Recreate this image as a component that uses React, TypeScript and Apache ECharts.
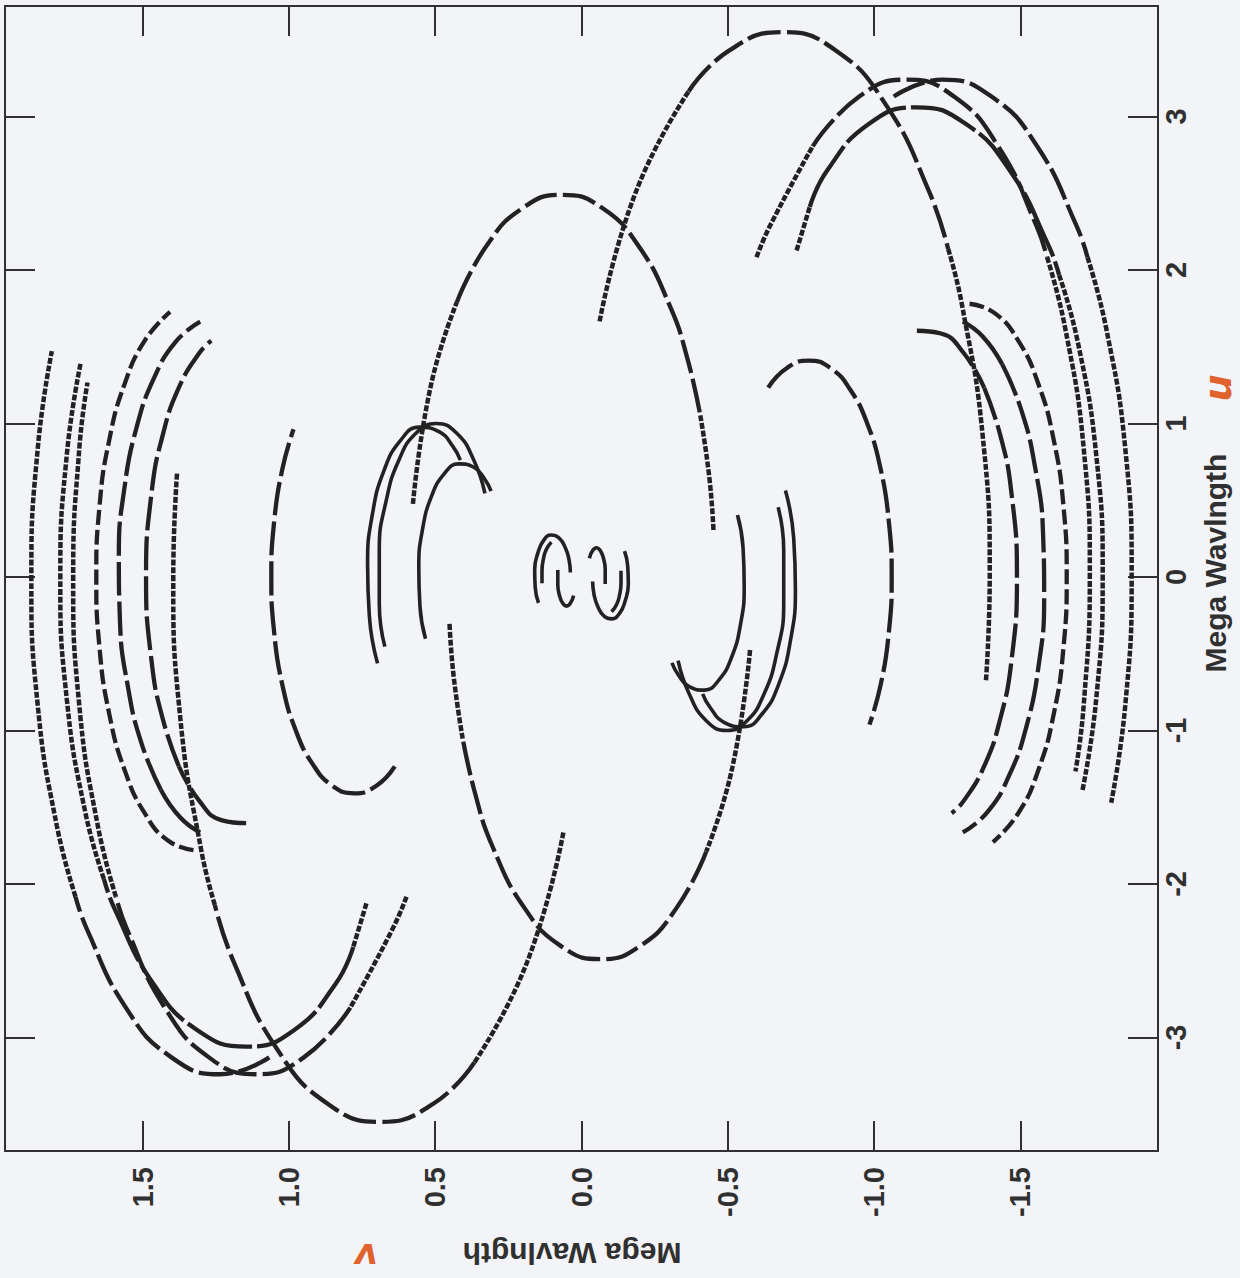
import React, { useEffect, useRef } from "react";
import * as echarts from "echarts";

type Pt = [number, number]; // [v, u]  (v: horizontal axis, u: vertical axis)

// ---- uv tracks (v, u in Mega Wavelength) ----
const T1_DOT_A: Pt[] = [[-0.062, 1.665], [-0.186, 2.51], [-0.366, 3.163]];
const T1_LONG: Pt[] = [[-0.366, 3.163], [-0.504, 3.429], [-0.687, 3.55], [-0.87, 3.429], [-1.041, 3.074], [-1.188, 2.51], [-1.253, 2.137]];
const T1_DOT_B: Pt[] = [[-1.253, 2.137], [-1.3, 1.775], [-1.371, 0.919], [-1.395, 0], [-1.382, -0.678]];
const T1C_DOT_A: Pt[] = [[0.062, -1.665], [0.186, -2.51], [0.366, -3.163]];
const T1C_LONG: Pt[] = [[0.366, -3.163], [0.504, -3.429], [0.687, -3.55], [0.87, -3.429], [1.041, -3.074], [1.188, -2.51], [1.253, -2.137]];
const T1C_DOT_B: Pt[] = [[1.253, -2.137], [1.3, -1.775], [1.371, -0.919], [1.395, 0], [1.382, 0.678]];

const P_LONG: Pt[] = [[-1.067, 3.13], [-1.234, 3.24], [-1.401, 3.13], [-1.557, 2.806], [-1.691, 2.291], [-1.729, 2.083]];
const P_DOT: Pt[] = [[-1.729, 2.083], [-1.793, 1.62], [-1.858, 0.839], [-1.88, 0], [-1.858, -0.839], [-1.81, -1.471]];
const PC_LONG: Pt[] = [[1.067, -3.13], [1.234, -3.24], [1.401, -3.13], [1.557, -2.806], [1.691, -2.291], [1.729, -2.083]];
const PC_DOT: Pt[] = [[1.729, -2.083], [1.793, -1.62], [1.858, -0.839], [1.88, 0], [1.858, 0.839], [1.81, 1.471]];

const Q_DOT_A: Pt[] = [[-0.598, 2.083], [-0.645, 2.291], [-0.79, 2.806]];
const Q_LONG: Pt[] = [[-0.79, 2.806], [-0.949, 3.13], [-1.111, 3.24], [-1.273, 3.13], [-1.424, 2.806], [-1.554, 2.291], [-1.591, 2.083]];
const Q_DOT_B: Pt[] = [[-1.591, 2.083], [-1.653, 1.62], [-1.716, 0.839], [-1.737, 0], [-1.716, -0.839], [-1.688, -1.267]];
const QC_DOT_A: Pt[] = [[0.598, -2.083], [0.645, -2.291], [0.79, -2.806]];
const QC_LONG: Pt[] = [[0.79, -2.806], [0.949, -3.13], [1.111, -3.24], [1.273, -3.13], [1.424, -2.806], [1.554, -2.291], [1.591, -2.083]];
const QC_DOT_B: Pt[] = [[1.591, -2.083], [1.653, -1.62], [1.716, -0.839], [1.737, 0], [1.716, 0.839], [1.688, 1.267]];

const R_DOT_A: Pt[] = [[-0.735, 2.127], [-0.78, 2.411]];
const R_TOP: Pt[] = [[-0.78, 2.411], [-0.84, 2.65], [-0.985, 2.956], [-1.145, 3.06], [-1.31, 2.956], [-1.463, 2.65], [-1.595, 2.164], [-1.632, 1.968]];
const R_DOT_B: Pt[] = [[-1.632, 1.968], [-1.696, 1.53], [-1.759, 0.793], [-1.781, 0], [-1.759, -0.793], [-1.712, -1.389]];
const RC_DOT_A: Pt[] = [[0.735, -2.127], [0.78, -2.411]];
const RC_TOP: Pt[] = [[0.78, -2.411], [0.84, -2.65], [0.985, -2.956], [1.145, -3.06], [1.31, -2.956], [1.463, -2.65], [1.595, -2.164], [1.632, -1.968]];
const RC_DOT_B: Pt[] = [[1.632, -1.968], [1.696, -1.53], [1.759, -0.793], [1.781, 0], [1.759, 0.793], [1.712, 1.389]];

const S1_TOP: Pt[] = [[-1.146, 1.604], [-1.228, 1.586], [-1.306, 1.459], [-1.376, 1.233]];
const S1_LONG: Pt[] = [[-1.376, 1.233], [-1.431, 0.924], [-1.469, 0.551], [-1.488, 0], [-1.469, -0.551], [-1.431, -0.924], [-1.376, -1.233], [-1.306, -1.459], [-1.265, -1.539]];
const S1C_TOP: Pt[] = [[1.146, -1.604], [1.228, -1.586], [1.306, -1.459], [1.376, -1.233]];
const S1C_LONG: Pt[] = [[1.376, -1.233], [1.431, -0.924], [1.469, -0.551], [1.488, 0], [1.469, 0.551], [1.431, 0.924], [1.376, 1.233], [1.306, 1.459], [1.265, 1.539]];

const S3_TOP: Pt[] = [[-1.303, 1.664], [-1.371, 1.567], [-1.438, 1.384]];
const S3_LONG: Pt[] = [[-1.438, 1.384], [-1.503, 1.087], [-1.55, 0.715], [-1.577, 0.294], [-1.581, -0.147], [-1.562, -0.578], [-1.521, -0.97], [-1.461, -1.295], [-1.387, -1.532], [-1.303, -1.664]];
const S3C_TOP: Pt[] = [[1.303, -1.664], [1.371, -1.567], [1.438, -1.384]];
const S3C_LONG: Pt[] = [[1.438, -1.384], [1.503, -1.087], [1.55, -0.715], [1.577, -0.294], [1.581, 0.147], [1.562, 0.578], [1.521, 0.97], [1.461, 1.295], [1.387, 1.532], [1.303, 1.664]];

const S2_DASH: Pt[] = [[-1.326, 1.78], [-1.412, 1.719], [-1.492, 1.541], [-1.561, 1.259], [-1.614, 0.89], [-1.647, 0.461], [-1.658, 0], [-1.647, -0.461], [-1.614, -0.89], [-1.561, -1.259], [-1.492, -1.541], [-1.406, -1.727]];
const S2C_DASH: Pt[] = [[1.326, -1.78], [1.412, -1.719], [1.492, -1.541], [1.561, -1.259], [1.614, -0.89], [1.647, -0.461], [1.658, 0], [1.647, 0.461], [1.614, 0.89], [1.561, 1.259], [1.492, 1.541], [1.406, 1.727]];

const E0_DOT_A: Pt[] = [[0.576, 0.476], [0.515, 1.245], [0.426, 1.79]];
const E0_LONG: Pt[] = [[0.426, 1.79], [0.325, 2.156], [0.2, 2.405], [0.065, 2.49], [-0.07, 2.405], [-0.195, 2.156], [-0.303, 1.761], [-0.361, 1.429], [-0.406, 1.053]];
const E0_DOT_B: Pt[] = [[-0.406, 1.053], [-0.437, 0.645], [-0.451, 0.304]];
const E0C_DOT_A: Pt[] = [[-0.576, -0.476], [-0.515, -1.245], [-0.426, -1.79]];
const E0C_LONG: Pt[] = [[-0.426, -1.79], [-0.325, -2.156], [-0.2, -2.405], [-0.065, -2.49], [0.07, -2.405], [0.195, -2.156], [0.303, -1.761], [0.361, -1.429], [0.406, -1.053]];
const E0C_DOT_B: Pt[] = [[0.406, -1.053], [0.437, -0.645], [0.451, -0.304]];

const E1_LONG: Pt[] = [[-0.638, 1.234], [-0.702, 1.362], [-0.776, 1.41], [-0.85, 1.362], [-0.918, 1.221], [-0.977, 0.997], [-1.022, 0.705], [-1.05, 0.365], [-1.06, 0], [-1.05, -0.365], [-1.022, -0.705], [-0.984, -0.962]];
const E1C_LONG: Pt[] = [[0.638, -1.234], [0.702, -1.362], [0.776, -1.41], [0.85, -1.362], [0.918, -1.221], [0.977, -0.997], [1.022, -0.705], [1.05, -0.365], [1.06, 0], [1.05, 0.365], [1.022, 0.705], [0.984, 0.962]];

const C1: Pt[] = [[0.672, -0.454], [0.691, -0.174], [0.691, 0.174], [0.667, 0.5], [0.623, 0.766], [0.564, 0.94], [0.496, 1.0], [0.428, 0.94], [0.369, 0.766], [0.33, 0.545]];
const C2: Pt[] = [[0.697, -0.563], [0.725, -0.254], [0.731, 0.085], [0.714, 0.414], [0.675, 0.693], [0.619, 0.888], [0.554, 0.976], [0.487, 0.947], [0.439, 0.849], [0.414, 0.761]];
const C3: Pt[] = [[0.533, -0.403], [0.552, -0.192], [0.556, 0.064], [0.543, 0.313], [0.513, 0.523], [0.47, 0.67], [0.42, 0.737], [0.368, 0.715], [0.332, 0.641], [0.309, 0.559]];
const C1C: Pt[] = [[-0.672, 0.454], [-0.691, 0.174], [-0.691, -0.174], [-0.667, -0.5], [-0.623, -0.766], [-0.564, -0.94], [-0.496, -1.0], [-0.428, -0.94], [-0.369, -0.766], [-0.33, -0.545]];
const C2C: Pt[] = [[-0.697, 0.563], [-0.725, 0.254], [-0.731, -0.085], [-0.714, -0.414], [-0.675, -0.693], [-0.619, -0.888], [-0.554, -0.976], [-0.487, -0.947], [-0.439, -0.849], [-0.414, -0.761]];
const C3C: Pt[] = [[-0.533, 0.403], [-0.552, 0.192], [-0.556, -0.064], [-0.543, -0.313], [-0.513, -0.523], [-0.47, -0.67], [-0.42, -0.737], [-0.368, -0.715], [-0.332, -0.641], [-0.309, -0.559]];

const TINY_A: Pt[] = [[0.147, -0.169], [0.158, -0.071], [0.16, 0.048], [0.149, 0.157], [0.13, 0.237], [0.104, 0.273], [0.078, 0.257], [0.056, 0.194], [0.043, 0.116], [0.038, 0.029]];
const TINY_B: Pt[] = [[0.135, -0.041], [0.135, 0.041], [0.13, 0.118], [0.12, 0.18], [0.103, 0.227]];
const TINY_C: Pt[] = [[0.027, -0.122], [0.038, -0.172], [0.051, -0.19], [0.064, -0.172], [0.075, -0.122], [0.081, -0.049], [0.081, 0.046]];
const TINY_AC: Pt[] = [[-0.147, 0.169], [-0.158, 0.071], [-0.16, -0.048], [-0.149, -0.157], [-0.13, -0.237], [-0.104, -0.273], [-0.078, -0.257], [-0.056, -0.194], [-0.043, -0.116], [-0.038, -0.029]];
const TINY_BC: Pt[] = [[-0.135, 0.041], [-0.135, -0.041], [-0.13, -0.118], [-0.12, -0.18], [-0.103, -0.227]];
const TINY_CC: Pt[] = [[-0.027, 0.122], [-0.038, 0.172], [-0.051, 0.19], [-0.064, 0.172], [-0.075, 0.122], [-0.081, 0.049], [-0.081, -0.046]];

// axis ranges and labels
const V_RANGE: [number, number] = [-1.97, 1.97];
const U_RANGE: [number, number] = [-3.74, 3.72];
const AXIS_TITLE = "Mega Wavlngth";

const TRACKS: [Pt[], string][] = [
  [T1_DOT_A, "dot"], [T1_LONG, "long"], [T1_DOT_B, "dot"],
  [T1C_DOT_A, "dot"], [T1C_LONG, "long"], [T1C_DOT_B, "dot"],
  [P_LONG, "long"], [P_DOT, "dot"], [PC_LONG, "long"], [PC_DOT, "dot"],
  [Q_DOT_A, "dot"], [Q_LONG, "long"], [Q_DOT_B, "dot"],
  [QC_DOT_A, "dot"], [QC_LONG, "long"], [QC_DOT_B, "dot"],
  [R_DOT_A, "dot"], [R_TOP, "near"], [R_DOT_B, "dot"],
  [RC_DOT_A, "dot"], [RC_TOP, "near"], [RC_DOT_B, "dot"],
  [S1_TOP, "near"], [S1_LONG, "long"], [S1C_TOP, "near"], [S1C_LONG, "long"],
  [S3_TOP, "near"], [S3_LONG, "long"], [S3C_TOP, "near"], [S3C_LONG, "long"],
  [S2_DASH, "dash"], [S2C_DASH, "dash"],
  [E0_DOT_A, "dot"], [E0_LONG, "long"], [E0_DOT_B, "dot"],
  [E0C_DOT_A, "dot"], [E0C_LONG, "long"], [E0C_DOT_B, "dot"],
  [E1_LONG, "long"], [E1C_LONG, "long"],
  [C1, "solid"], [C2, "solid"], [C3, "solid"], [C1C, "solid"], [C2C, "solid"], [C3C, "solid"],
  [TINY_A, "solid"], [TINY_B, "solid"], [TINY_C, "solid"],
  [TINY_AC, "solid"], [TINY_BC, "solid"], [TINY_CC, "solid"],
];

const LINE_COLOR = "#222222";
const STYLES: Record<string, any> = {
  dot: { width: 4.5, type: [6, 1.8] },
  long: { width: 4.3, type: [34, 6] },
  dash: { width: 4.3, type: [15, 5] },
  near: { width: 4.3, type: [70, 5] },
  solid: { width: 3.6, type: "solid" },
};

const FONT = "'Liberation Sans', Arial, Helvetica, sans-serif";
const AXIS_COLOR = "#303030";

function axisCommon(extra: any) {
  return {
    type: "value",
    splitLine: { show: false },
    axisLine: { show: true, onZero: false, lineStyle: { color: AXIS_COLOR, width: 2 } },
    axisTick: { show: true, inside: true, length: 30, lineStyle: { color: AXIS_COLOR, width: 2 } },
    ...extra,
  };
}

export default function App() {
  const ref = useRef<HTMLDivElement | null>(null);

  useEffect(() => {
    if (!ref.current) return;
    const chart = echarts.init(ref.current, undefined, { renderer: "svg" });

    const series = TRACKS.map(([data, style]) => ({
      type: "line",
      data,
      symbol: "none",
      showSymbol: false,
      smooth: true,
      silent: true,
      lineStyle: { color: LINE_COLOR, cap: "butt", ...STYLES[style] },
    }));

    const xLabel = {
      show: true,
      rotate: 90,
      margin: 16,
      fontSize: 29,
      fontWeight: "bold",
      fontFamily: FONT,
      color: AXIS_COLOR,
      showMinLabel: false,
      showMaxLabel: false,
      formatter: (val: number) => (Math.abs(val) < 1e-9 ? "0.0" : val.toFixed(1)),
    };
    const yLabel = {
      show: true,
      rotate: 90,
      margin: 3,
      fontSize: 29,
      fontWeight: "bold",
      fontFamily: FONT,
      color: AXIS_COLOR,
      showMinLabel: false,
      showMaxLabel: false,
      formatter: (val: number) => (Math.abs(val) < 1e-9 ? "0" : String(Math.round(val))),
    };

    const titleStyle = {
      text: AXIS_TITLE,
      fontSize: 30,
      fontWeight: "bold",
      fontFamily: FONT,
      fill: AXIS_COLOR,
      align: "center",
      verticalAlign: "middle",
      textAlign: "center",
      textVerticalAlign: "middle",
    };
    const noteStyle = {
      fontStyle: "italic",
      fontWeight: "bold",
      fontFamily: "'DejaVu Sans', sans-serif",
      fill: "#e0622c",
      align: "center",
      verticalAlign: "middle",
      textAlign: "center",
      textVerticalAlign: "middle",
    };

    chart.setOption({
      animation: false,
      backgroundColor: "#f3f4f7",
      grid: { left: 5, top: 6, width: 1153, height: 1145, containLabel: false },
      xAxis: [
        axisCommon({ position: "bottom", min: V_RANGE[0], max: V_RANGE[1], inverse: true, minInterval: 0.5, maxInterval: 0.5, axisLabel: xLabel }),
        axisCommon({ position: "top", min: V_RANGE[0], max: V_RANGE[1], inverse: true, minInterval: 0.5, maxInterval: 0.5, axisLabel: { show: false } }),
      ],
      yAxis: [
        axisCommon({ position: "right", min: U_RANGE[0], max: U_RANGE[1], minInterval: 1, maxInterval: 1, axisLabel: yLabel }),
        axisCommon({ position: "left", min: U_RANGE[0], max: U_RANGE[1], minInterval: 1, maxInterval: 1, axisLabel: { show: false } }),
      ],
      graphic: [
        { type: "text", x: 1215, y: 563, rotation: Math.PI / 2, style: { ...titleStyle } },
        { type: "text", x: 572, y: 1253, rotation: Math.PI, style: { ...titleStyle } },
        { type: "text", x: 1218, y: 388, rotation: Math.PI / 2, style: { ...noteStyle, text: "u", fontSize: 38 } },
        { type: "text", x: 366, y: 1256, rotation: Math.PI, style: { ...noteStyle, text: "v", fontSize: 36 } },
      ],
      series,
    });

    return () => chart.dispose();
  }, []);

  return (
    <div
      ref={ref}
      style={{ position: "absolute", left: 0, top: 0, width: 1240, height: 1278, background: "#f3f4f7" }}
    />
  );
}
